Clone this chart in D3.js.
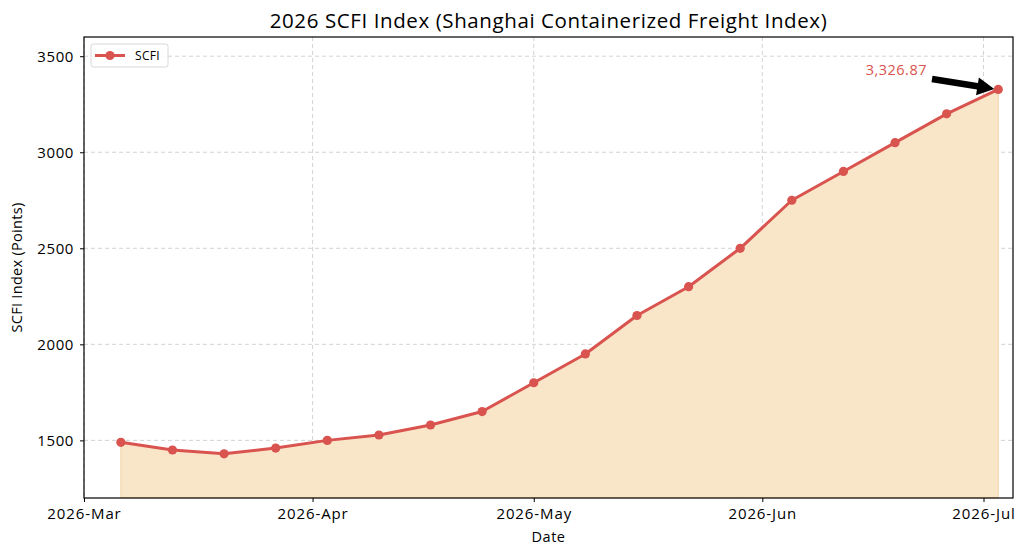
<!DOCTYPE html>
<html>
<head>
<meta charset="utf-8">
<script src="https://cdn.jsdelivr.net/npm/d3@7"></script>
<style>
  body { margin: 0; background: #fff; }
  text { font-family: "Open Sans", "DejaVu Sans", sans-serif; }
</style>
</head>
<body>
<div class="js-container"></div>
<script>
;(function() {
  'use strict';

  // Weekly SCFI readings (Fridays)
  var dates = ['2026-03-06', '2026-03-13', '2026-03-20', '2026-03-27', '2026-04-03',
               '2026-04-10', '2026-04-17', '2026-04-24', '2026-05-01', '2026-05-08',
               '2026-05-15', '2026-05-22', '2026-05-29', '2026-06-05', '2026-06-12',
               '2026-06-19', '2026-06-26', '2026-07-03'];
  var values = [1490, 1450, 1430, 1460, 1500, 1528, 1580, 1650, 1800, 1950,
                2150, 2300, 2500, 2750, 2900, 3050, 3200, 3326.87];
  var xTicks = ['2026-03-01', '2026-04-01', '2026-05-01', '2026-06-01', '2026-07-01'];
  var yTicks = [1500, 2000, 2500, 3000, 3500];

  var W = 1026, H = 556;
  var margin = { left: 84, right: 13, top: 37, bottom: 58 };
  var lineColor = '#d9534f';

  var parse = d3.timeParse('%Y-%m-%d');
  var data = dates.map(function(d, i) { return { date: parse(d), value: values[i] }; });

  var svg = d3.select('.js-container').append('svg')
      .attr('width', W)
      .attr('height', H);

  var x = d3.scaleTime()
      .domain([parse('2026-03-01'), parse('2026-07-05')])
      .range([margin.left, W - margin.right]);

  var y = d3.scaleLinear()
      .domain([1200, 3600])
      .range([H - margin.bottom, margin.top]);

  // gridlines
  var grid = svg.append('g');
  grid.selectAll('.gx').data(xTicks).enter().append('line')
      .attr('x1', function(d) { return x(parse(d)); })
      .attr('x2', function(d) { return x(parse(d)); })
      .attr('y1', margin.top).attr('y2', H - margin.bottom)
      .attr('stroke', '#c8c8c8').attr('stroke-width', 0.8)
      .attr('stroke-dasharray', '4,3');
  grid.selectAll('.gy').data(yTicks).enter().append('line')
      .attr('x1', margin.left).attr('x2', W - margin.right)
      .attr('y1', function(d) { return y(d); })
      .attr('y2', function(d) { return y(d); })
      .attr('stroke', '#c8c8c8').attr('stroke-width', 0.8)
      .attr('stroke-dasharray', '4,3');

  // filled area under the line
  var area = d3.area()
      .x(function(d) { return x(d.date); })
      .y0(y(1200))
      .y1(function(d) { return y(d.value); });
  svg.append('path')
      .datum(data)
      .attr('d', area)
      .attr('fill', '#f9e5c8')
      .attr('stroke', '#f5d3a6')
      .attr('stroke-width', 1);

  var line = d3.line()
      .x(function(d) { return x(d.date); })
      .y(function(d) { return y(d.value); });
  svg.append('path')
      .datum(data)
      .attr('d', line)
      .attr('fill', 'none')
      .attr('stroke', lineColor)
      .attr('stroke-width', 3)
      .attr('stroke-linejoin', 'round');

  svg.selectAll('.dot').data(data).enter().append('circle')
      .attr('cx', function(d) { return x(d.date); })
      .attr('cy', function(d) { return y(d.value); })
      .attr('r', 4.6)
      .attr('fill', lineColor);

  // axes
  var xAxis = d3.axisBottom(x)
      .tickValues(xTicks.map(parse))
      .tickFormat(d3.timeFormat('%Y-%b'))
      .tickSize(4).tickPadding(6);
  var gx = svg.append('g')
      .attr('transform', 'translate(0,' + (H - margin.bottom) + ')')
      .call(xAxis);
  gx.select('.domain').remove();
  gx.selectAll('text').attr('font-size', 15).attr('letter-spacing', 0.9).attr('fill', '#000');
  gx.selectAll('line').attr('stroke', '#000');

  var yAxis = d3.axisLeft(y)
      .tickValues(yTicks)
      .tickFormat(d3.format('d'))
      .tickSize(4).tickPadding(6);
  var gy = svg.append('g')
      .attr('transform', 'translate(' + margin.left + ',0)')
      .call(yAxis);
  gy.select('.domain').remove();
  gy.selectAll('text').attr('font-size', 15).attr('letter-spacing', 0.6).attr('fill', '#000');
  gy.selectAll('line').attr('stroke', '#000');

  // frame
  svg.append('rect')
      .attr('x', margin.left).attr('y', margin.top)
      .attr('width', W - margin.left - margin.right)
      .attr('height', H - margin.top - margin.bottom)
      .attr('fill', 'none').attr('stroke', '#000').attr('stroke-width', 1.2);

  // title and labels
  svg.append('text')
      .attr('x', (margin.left + W - margin.right) / 2).attr('y', 28)
      .attr('text-anchor', 'middle')
      .attr('font-size', 20.5)
      .attr('letter-spacing', 0.6)
      .text('2026 SCFI Index (Shanghai Containerized Freight Index)');

  svg.append('text')
      .attr('x', (margin.left + W - margin.right) / 2).attr('y', 542)
      .attr('text-anchor', 'middle')
      .attr('font-size', 14.5)
      .attr('letter-spacing', 0.5)
      .text('Date');

  svg.append('text')
      .attr('transform', 'translate(22,' + ((margin.top + H - margin.bottom) / 2) + ') rotate(-90)')
      .attr('text-anchor', 'middle')
      .attr('font-size', 14.5)
      .attr('letter-spacing', 0.3)
      .text('SCFI Index (Points)');

  // annotation on the last point
  var last = data[data.length - 1];
  var px = x(last.date), py = y(last.value);
  svg.append('text')
      .attr('x', 927).attr('y', 75)
      .attr('text-anchor', 'end')
      .attr('font-size', 14.5)
      .attr('letter-spacing', 0.5)
      .attr('fill', lineColor)
      .text(d3.format(',.2f')(last.value));

  // filled arrow from the label toward the point
  var tx = 932, ty = 79;
  var hx = px - 4, hy = py - 0.5;
  var ang = Math.atan2(hy - ty, hx - tx);
  var len = Math.hypot(hx - tx, hy - ty);
  var headLen = 17, headW = 9, shaftW = 3.3;
  var arrow = svg.append('g')
      .attr('transform', 'translate(' + tx + ',' + ty + ') rotate(' + (ang * 180 / Math.PI) + ')');
  arrow.append('path')
      .attr('d', 'M0,' + (-shaftW) + 'L' + (len - headLen) + ',' + (-shaftW) +
                 'L' + (len - headLen) + ',' + (-headW) + 'L' + len + ',0' +
                 'L' + (len - headLen) + ',' + headW + 'L' + (len - headLen) + ',' + shaftW +
                 'L0,' + shaftW + 'Z')
      .attr('fill', '#000');

  // legend
  var lg = svg.append('g').attr('transform', 'translate(91,44)');
  lg.append('rect')
      .attr('width', 77).attr('height', 23).attr('rx', 2.5)
      .attr('fill', '#fff').attr('fill-opacity', 0.8)
      .attr('stroke', '#d8d8d8');
  lg.append('line')
      .attr('x1', 4).attr('x2', 34).attr('y1', 11.5).attr('y2', 11.5)
      .attr('stroke', lineColor).attr('stroke-width', 3);
  lg.append('circle')
      .attr('cx', 19).attr('cy', 11.5).attr('r', 4.6).attr('fill', lineColor);
  lg.append('text')
      .attr('x', 44).attr('y', 16)
      .attr('font-size', 12)
      .attr('letter-spacing', 0.3)
      .text('SCFI');
}());
</script>
</body>
</html>
